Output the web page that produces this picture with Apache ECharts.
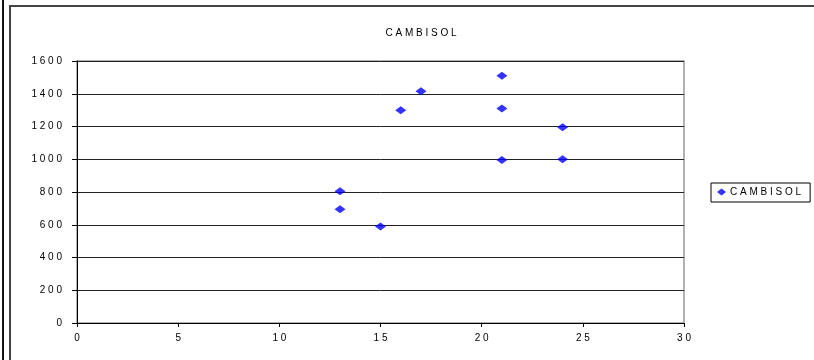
<!DOCTYPE html>
<html>
<head>
<meta charset="utf-8">
<script src="https://cdn.jsdelivr.net/npm/echarts@6/dist/echarts.min.js"></script>
<style>
  html, body { margin: 0; padding: 0; background: #fff; }
  #chart { width: 814px; height: 360px; }
</style>
</head>
<body>
<div id="chart"></div>
<script>
// Sample depth (x) against measured value (y) for the CAMBISOL soil group
const seriesName = 'CAMBISOL';
const xValues = [13, 13, 15, 16, 17, 21, 21, 21, 24, 24];
const yValues = [805, 695, 590, 1300, 1415, 1510, 1310, 995, 1195, 1000];
const xTicks = [0, 5, 10, 15, 20, 25, 30];
const yTicks = [0, 200, 400, 600, 800, 1000, 1200, 1400, 1600];

// Spread characters apart to mimic the wide-tracked label font
const spaced = s => String(s).split('').join(' ');

const font = '"Liberation Sans", Arial, sans-serif';
const points = xValues.map((x, i) => [x, yValues[i]]);

const chart = echarts.init(document.getElementById('chart'), null, { renderer: 'canvas' });
chart.setOption({
  animation: false,
  backgroundColor: '#fff',
  title: {
    text: spaced(seriesName),
    left: 416,
    top: 23,
    textAlign: 'center',
    textStyle: { fontFamily: font, fontSize: 10, fontWeight: 'normal', color: '#000' }
  },
  legend: {
    data: [seriesName],
    left: 711,
    top: 183,
    orient: 'vertical',
    icon: 'diamond',
    itemWidth: 9,
    itemHeight: 7,
    itemGap: 0,
    padding: [4, 9, 5, 6],
    borderColor: '#000',
    borderWidth: 1,
    formatter: name => spaced(name),
    textStyle: { fontFamily: font, fontSize: 10, color: '#000', padding: [0, 0, 0, -1] }
  },
  grid: {
    left: 77, right: 130, top: 61, bottom: 37,
    show: true, borderColor: '#999', borderWidth: 1.5, backgroundColor: '#fff'
  },
  xAxis: {
    type: 'value',
    min: xTicks[0],
    max: xTicks[xTicks.length - 1],
    interval: 5,
    axisLine: { show: true, onZero: false, lineStyle: { color: '#000', width: 1 } },
    axisTick: { show: true, length: 4, lineStyle: { color: '#000' } },
    splitLine: { show: false },
    axisLabel: {
      margin: 10,
      fontFamily: font, fontSize: 10, color: '#000',
      formatter: v => spaced(v)
    }
  },
  yAxis: {
    type: 'value',
    min: yTicks[0],
    max: yTicks[yTicks.length - 1],
    interval: 200,
    axisLine: { show: true, onZero: false, lineStyle: { color: '#000', width: 1 } },
    axisTick: { show: true, length: 5, lineStyle: { color: '#000' } },
    splitLine: { show: true, lineStyle: { color: '#222', width: 1 } },
    axisLabel: {
      margin: 15,
      fontFamily: font, fontSize: 10, color: '#000',
      formatter: v => spaced(v)
    }
  },
  series: [{
    name: seriesName,
    type: 'scatter',
    data: points,
    symbol: 'diamond',
    symbolSize: [11, 8],
    itemStyle: { color: '#0000ff' }
  }],
  graphic: [
    { type: 'line', shape: { x1: 3, y1: 0, x2: 3, y2: 360 }, style: { stroke: '#111', lineWidth: 2 }, z: 100 },
    { type: 'rect', shape: { x: 10, y: 6, width: 900, height: 400 }, style: { fill: null, stroke: '#444', lineWidth: 2 }, z: 100 }
  ]
});
</script>
</body>
</html>
